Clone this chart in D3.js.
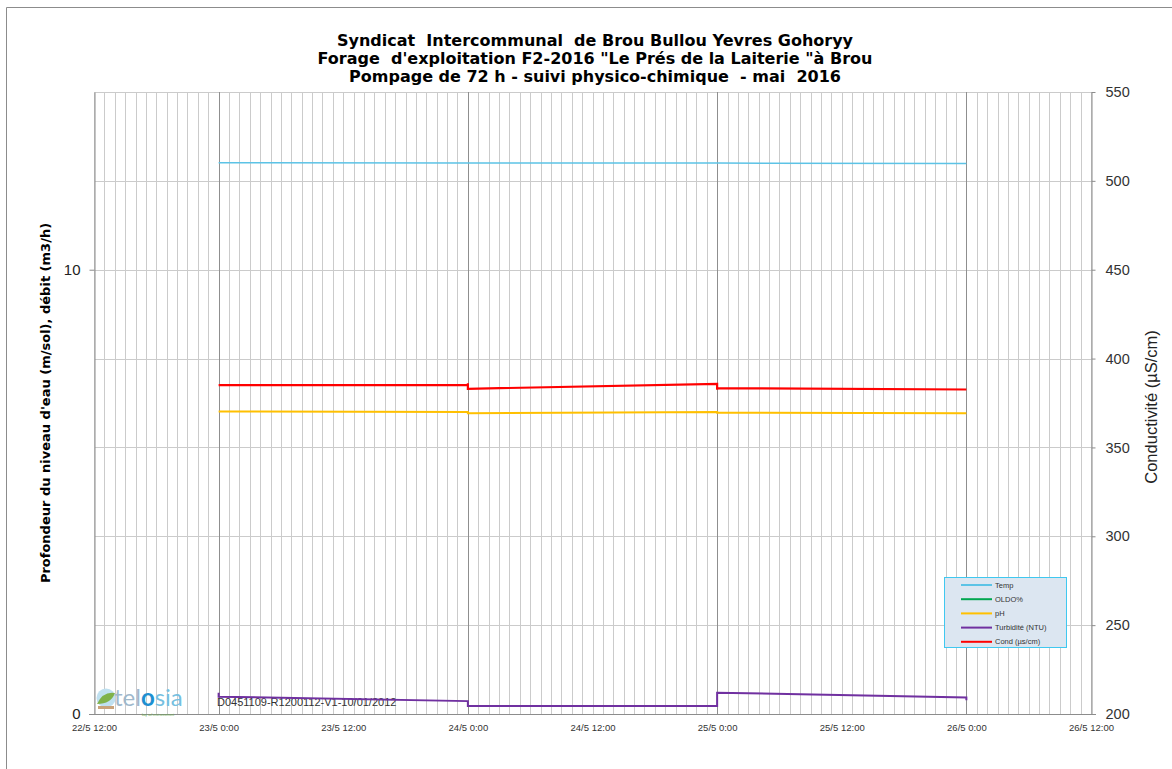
<!DOCTYPE html>
<html><head><meta charset="utf-8">
<script src="https://cdn.jsdelivr.net/npm/d3@7"></script>
<style>body{margin:0;background:#fff} svg{display:block}</style>
</head><body>
<svg id="c" width="1172" height="769"></svg>
<script>
// ---------- data ----------
const titleLines = [
  "Syndicat  Intercommunal  de Brou Bullou Yevres Gohoryy",
  "Forage  d'exploitation F2-2016 \"Le Prés de la Laiterie \"à Brou",
  "Pompage de 72 h - suivi physico-chimique  - mai  2016"
];
const leftAxisTitle = "Profondeur du niveau d'eau (m/sol), débit (m3/h)";
const rightAxisTitle = "Conductivité (µS/cm)";
const xTickTimes = ["2016-05-22 12:00","2016-05-23 00:00","2016-05-23 12:00","2016-05-24 00:00","2016-05-24 12:00","2016-05-25 00:00","2016-05-25 12:00","2016-05-26 00:00","2016-05-26 12:00"];
const xTickLabels = ["22/5 12:00","23/5 0:00","23/5 12:00","24/5 0:00","24/5 12:00","25/5 0:00","25/5 12:00","26/5 0:00","26/5 12:00"];
const leftTicks = [0, 10];
const rightTicks = [200, 250, 300, 350, 400, 450, 500, 550];
const seriesNames = ["Temp", "OLDO%", "pH", "Turbidité (NTU)", "Cond (µs/cm)"];
const seriesColors = ["#5cc3e6", "#00a650", "#ffc000", "#7030a0", "#ff0000"];

const tempTimes = ["2016-05-23 00:00","2016-05-24 00:00","2016-05-25 00:00","2016-05-26 00:00"];
const tempValues = [12.41, 12.40, 12.40, 12.39];
const oldoTimes = [];
const oldoValues = [];
const phTimes = ["2016-05-23 00:00","2016-05-24 00:00","2016-05-24 00:00","2016-05-25 00:00","2016-05-25 00:00","2016-05-26 00:00"];
const phValues = [6.81, 6.80, 6.77, 6.80, 6.78, 6.77];
const turbTimes = ["2016-05-23 00:00","2016-05-23 00:00","2016-05-24 00:00","2016-05-24 00:00","2016-05-25 00:00","2016-05-25 00:00","2016-05-26 00:00","2016-05-26 00:00"];
const turbValues = [0.48, 0.39, 0.29, 0.18, 0.18, 0.48, 0.37, 0.31];
const condTimes = ["2016-05-23 00:00","2016-05-24 00:00","2016-05-24 00:00","2016-05-24 00:00","2016-05-25 00:00","2016-05-25 00:00","2016-05-25 00:00","2016-05-26 00:00"];
const condValues = [385.1, 385.1, 386.1, 383.0, 385.7, 382.4, 383.4, 382.6];

// ---------- setup ----------
const parse = d3.timeParse("%Y-%m-%d %H:%M");
const svg = d3.select("#c");
const L = 94, R = 1091, T = 92, B = 714;
const x = d3.scaleTime().domain([parse("2016-05-22 12:00"), parse("2016-05-26 12:00")]).range([L, R]);
const yL = d3.scaleLinear().domain([0, 14]).range([B, T]);
const yR = d3.scaleLinear().domain([200, 550]).range([B, T]);

// outer border (left/top visible)
svg.append("path").attr("d", "M6.5,769 V7.5 H1172").attr("fill", "none").attr("stroke", "#8c8c8c").attr("stroke-width", 1);

// ---------- grid ----------
const grid = svg.append("g");
const hours = d3.timeHour.every(1).range(x.domain()[0], d3.timeHour.offset(x.domain()[1], 1));
grid.selectAll("line.minor").data(hours).join("line")
  .attr("x1", d => Math.round(x(d)) + 0.5).attr("x2", d => Math.round(x(d)) + 0.5)
  .attr("y1", T).attr("y2", B).attr("stroke", "#cbcbcb").attr("stroke-width", 1);
grid.selectAll("line.h").data(rightTicks).join("line")
  .attr("x1", L).attr("x2", R).attr("y1", d => Math.round(yR(d)) + 0.5).attr("y2", d => Math.round(yR(d)) + 0.5)
  .attr("stroke", "#cbcbcb").attr("stroke-width", 1);
const days = d3.timeDay.every(1).range(x.domain()[0], x.domain()[1]);
grid.selectAll("line.major").data(days).join("line")
  .attr("x1", d => Math.round(x(d)) + 0.5).attr("x2", d => Math.round(x(d)) + 0.5)
  .attr("y1", T).attr("y2", B).attr("stroke", "#8f8f8f").attr("stroke-width", 1);

// ---------- axes ----------
const axisStyle = g => {
  g.selectAll("path.domain").attr("stroke", "#8c8c8c");
  g.selectAll(".tick line").attr("stroke", "#8c8c8c");
};
const gl = svg.append("g").attr("transform", `translate(${L + 0.5},0)`)
  .call(d3.axisLeft(yL).tickValues(leftTicks).tickSize(5).tickSizeOuter(0).tickPadding(9).tickFormat(d3.format("d")));
axisStyle(gl);
gl.selectAll("text").attr("font-family", "Liberation Sans, Arial, sans-serif").attr("font-size", 15).attr("fill", "#222").attr("dy", "0.32em");

const gr = svg.append("g").attr("transform", `translate(${R + 0.5},0)`)
  .call(d3.axisRight(yR).tickValues(rightTicks).tickSize(4).tickSizeOuter(0).tickPadding(10));
axisStyle(gr);
gr.selectAll("text").attr("font-family", "Liberation Sans, Arial, sans-serif").attr("font-size", 14.5).attr("fill", "#333");

const gb = svg.append("g").attr("transform", `translate(0,${B + 0.5})`)
  .call(d3.axisBottom(x).tickValues(xTickTimes.map(parse)).tickSize(0).tickSizeOuter(0).tickPadding(10)
    .tickFormat((d, i) => xTickLabels[i]));
axisStyle(gb);
gb.select("path.domain").attr("d", `M${L - 5},0H${R + 5}`);
gb.selectAll("text").attr("font-family", "Liberation Sans, Arial, sans-serif").attr("font-size", 9.5).attr("fill", "#333");

// axis titles
svg.append("text").attr("transform", `translate(50,403) rotate(-90)`).attr("text-anchor", "middle")
  .attr("font-family", "DejaVu Sans, Verdana, sans-serif").attr("font-weight", "bold").attr("font-size", 13)
  .attr("fill", "#000").text(leftAxisTitle);
svg.append("text").attr("transform", `translate(1157,407) rotate(-90)`).attr("text-anchor", "middle")
  .attr("font-family", "Liberation Sans, Arial, sans-serif").attr("font-size", 16.5).attr("fill", "#222").text(rightAxisTitle);

// title
svg.append("g").selectAll("text").data(titleLines).join("text")
  .attr("x", 595).attr("y", (d, i) => 46 + i * 18).attr("text-anchor", "middle")
  .attr("font-family", "DejaVu Sans, Verdana, sans-serif").attr("font-weight", "bold").attr("font-size", 16)
  .style("white-space", "pre").attr("fill", "#000").text(d => d);

// ---------- logo + reference ----------
const logo = svg.append("g");
logo.append("circle").attr("cx", 106).attr("cy", 698).attr("r", 9.5).attr("fill", "#bfe0f0");
logo.append("path").attr("d", "M97,704 q6,-13 18,-11 q-4,11 -18,11z").attr("fill", "#7fb24a");
logo.append("path").attr("d", "M98,706 h16 v3 h-16z").attr("fill", "#c9a27a");
const lt = logo.append("text").attr("x", 114).attr("y", 706).attr("font-family", "Lato, Open Sans, sans-serif").attr("font-size", 24);
lt.append("tspan").attr("fill", "#9fb8cc").text("tel");
lt.append("tspan").attr("fill", "#1e8fd0").attr("font-weight", "bold").text("o");
lt.append("tspan").attr("fill", "#76bfe0").text("sia");
logo.append("text").attr("x", 142).attr("y", 716).attr("font-family", "Liberation Sans, sans-serif").attr("font-size", 3.2).attr("fill", "#6aa84f").text("bay sol environnement");
svg.append("text").attr("x", 217).attr("y", 706).attr("font-family", "Liberation Sans, Arial, sans-serif").attr("font-size", 11)
  .attr("fill", "#333").text("D0451109-R1200112-V1-10/01/2012");

// ---------- series ----------
const series = [
  {name: seriesNames[0], color: seriesColors[0], times: tempTimes, values: tempValues, y: yL, w: 1.5},
  {name: seriesNames[1], color: seriesColors[1], times: oldoTimes, values: oldoValues, y: yL, w: 2},
  {name: seriesNames[2], color: seriesColors[2], times: phTimes, values: phValues, y: yL, w: 2},
  {name: seriesNames[3], color: seriesColors[3], times: turbTimes, values: turbValues, y: yL, w: 2},
  {name: seriesNames[4], color: seriesColors[4], times: condTimes, values: condValues, y: yR, w: 2.2}
];
const lineGen = (s) => d3.line().x((d, i) => x(parse(s.times[i]))).y(d => s.y(d));
svg.append("g").selectAll("path").data(series.filter(s => s.values.length)).join("path")
  .attr("d", s => lineGen(s)(s.values)).attr("fill", "none").attr("stroke", s => s.color)
  .attr("stroke-width", s => s.w).attr("stroke-linejoin", "miter");

// ---------- legend ----------
const lg = svg.append("g");
lg.append("rect").attr("x", 944.5).attr("y", 577.5).attr("width", 122).attr("height", 70)
  .attr("fill", "#dce6f1").attr("stroke", "#3fc8f0").attr("stroke-width", 1);
const rows = lg.selectAll("g").data(series).join("g").attr("transform", (d, i) => `translate(0,${585 + i * 14.2})`);
rows.append("line").attr("x1", 961).attr("x2", 992).attr("stroke", d => d.color).attr("stroke-width", 2);
rows.append("text").attr("x", 995).attr("y", 2.5).attr("font-family", "Liberation Sans, Arial, sans-serif")
  .attr("font-size", 7.5).attr("fill", "#333").text(d => d.name);
</script>
</body></html>
